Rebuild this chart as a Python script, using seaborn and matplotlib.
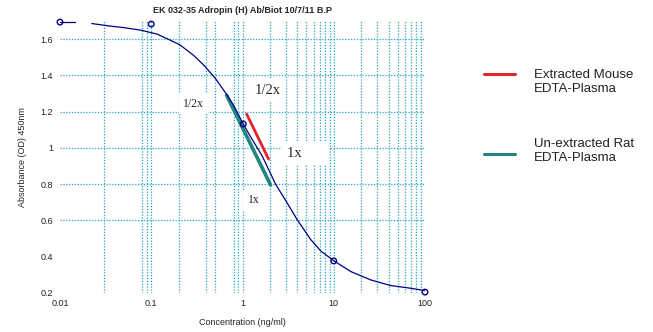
import numpy as np
import pandas as pd
import matplotlib
matplotlib.use("Agg")
import matplotlib.pyplot as plt
from matplotlib.lines import Line2D
from matplotlib.ticker import FixedLocator, FixedFormatter, NullFormatter
import seaborn as sns

# Standard curve (fitted line), two pieces: short lead-in at the top, then the main curve
lead_conc = [0.01, 0.0146]
lead_od = [1.695, 1.695]
curve_conc = [0.0223, 0.0354, 0.0492, 0.0757, 0.1156, 0.162, 0.208, 0.292, 0.376, 0.505,
              0.679, 0.796, 1.02, 1.224, 1.646, 2.305, 3.10, 3.99, 5.59, 7.2, 10, 15.4,
              25.5, 42.2, 70, 100]
curve_od = [1.686, 1.672, 1.664, 1.650, 1.628, 1.594, 1.567, 1.510, 1.457, 1.383,
            1.291, 1.236, 1.132, 1.062, 0.955, 0.800, 0.695, 0.603, 0.495, 0.432, 0.378, 0.318,
            0.272, 0.241, 0.226, 0.213]

# Standards (open circles)
std_conc = [0.01, 0.1, 1.02, 10, 100]
std_od = [1.694, 1.683, 1.132, 0.377, 0.205]

# Sample dilution lines (1/2x -> 1x)
mouse_conc = [1.11, 1.93]
mouse_od = [1.187, 0.939]
rat_conc = [0.67, 2.03]
rat_od = [1.29, 0.796]

x_ticks = [0.01, 0.1, 1, 10, 100]
x_ticklabels = ["0.01", "0.1", "1", "10", "100"]
y_ticks = [0.2, 0.4, 0.6, 0.8, 1.0, 1.2, 1.4, 1.6]
y_ticklabels = ["0.2", "0.4", "0.6", "0.8", "1", "1.2", "1.4", "1.6"]
x_grid = [0.03, 0.08, 0.09, 0.1, 0.2, 0.4, 0.5, 0.8, 0.9, 1,
          2, 3, 4, 5, 6, 7, 8, 9, 10, 20, 30, 40, 50, 60, 70, 80, 90]
y_grid = [0.6, 0.8, 1.0, 1.2, 1.4, 1.6]

title = "EK 032-35 Adropin (H) Ab/Biot 10/7/11 B.P"
x_label = "Concentration (ng/ml)"
y_label = "Absorbance (OD) 450nm"
series_names = ["Extracted Mouse\nEDTA-Plasma", "Un-extracted Rat\nEDTA-Plasma"]

NAVY = "#000080"
RED = "#E4232A"
TEAL = "#22857E"
GRID = "#22A6C6"

sns.set_style("white")
plt.rcParams["font.family"] = ["Liberation Sans", "DejaVu Sans"]

fig = plt.figure(figsize=(6.53, 3.32), dpi=100)
ax = fig.add_axes([60 / 653, 1 - 293 / 332, 365 / 653, 272 / 332])

# Dotted grid
for xv in x_grid:
    ax.axvline(xv, color=GRID, lw=0.9, ls=(0, (1, 1.3)), zorder=0)
for yv in y_grid:
    ax.axhline(yv, color=GRID, lw=0.9, ls=(0, (1, 1.3)), zorder=0)

curve = pd.DataFrame({
    "conc": lead_conc + curve_conc,
    "od": lead_od + curve_od,
    "piece": [0] * len(lead_conc) + [1] * len(curve_conc),
})
sns.lineplot(data=curve, x="conc", y="od", units="piece", estimator=None, sort=False,
             color=NAVY, lw=0.9, ax=ax, zorder=3)

std = pd.DataFrame({"conc": std_conc, "od": std_od})
sns.scatterplot(data=std, x="conc", y="od", ax=ax, s=16, marker="o",
                facecolor="none", edgecolor=NAVY, linewidth=1.0, zorder=4, clip_on=False)

sns.lineplot(x=rat_conc, y=rat_od, color=TEAL, lw=2.6, ax=ax, zorder=2)
sns.lineplot(x=mouse_conc, y=mouse_od, color=RED, lw=2.0, ax=ax, zorder=2)

ax.set_xscale("log")
ax.set_xlim(0.01, 100)
ax.set_ylim(0.2, 1.7)
for s in ax.spines.values():
    s.set_visible(False)

ax.xaxis.set_major_locator(FixedLocator(x_ticks))
ax.xaxis.set_major_formatter(FixedFormatter(x_ticklabels))
ax.xaxis.set_minor_locator(FixedLocator([v for v in x_grid if v not in x_ticks]))
ax.xaxis.set_minor_formatter(NullFormatter())
ax.yaxis.set_major_locator(FixedLocator(y_ticks))
ax.yaxis.set_major_formatter(FixedFormatter(y_ticklabels))
ax.yaxis.set_minor_locator(FixedLocator([round(0.2 + 0.04 * i, 2) for i in range(38)]))

ax.tick_params(axis="both", which="major", labelsize=6.5, colors="#222222", width=1.0,
               length=3, pad=2)
ax.tick_params(axis="x", which="major", length=3, pad=1.2)
ax.tick_params(axis="both", which="minor", width=1.0, length=2, color="#222222")

ax.set_xlabel(x_label, fontsize=6.5, labelpad=7.5)
ax.set_ylabel(y_label, fontsize=6.5, labelpad=10)
ax.set_title(title, fontsize=6.5, fontweight="bold", pad=5.5)

# Dilution labels
serif = "Liberation Serif"
box = dict(boxstyle="square,pad=0.35", facecolor="white", edgecolor="none")
ax.text(0.29, 1.242, "1/2x", family=serif, fontsize=8.5, ha="center", va="center", bbox=box, zorder=5)
ax.text(1.88, 1.319, "1/2x", family=serif, fontsize=10.5, ha="center", va="center", bbox=box, zorder=5)
ax.text(3.1, 0.972, "1x      ", family=serif, fontsize=10.5, ha="left", va="center", bbox=box, zorder=5)
ax.text(1.32, 0.713, "1x", family=serif, fontsize=8.5, ha="center", va="center", bbox=box, zorder=5)

# Legend beside the plot
W, H = 653, 332
key_rows = [(RED, 74, 82), (TEAL, 154, 151)]
for (color, line_y, text_y), name in zip(key_rows, series_names):
    fig.add_artist(Line2D([484 / W, 515 / W], [1 - line_y / H] * 2, color=color,
                          lw=2.2, transform=fig.transFigure))
    fig.text(534 / W, 1 - text_y / H, name, fontsize=9.5, ha="left", va="center",
             multialignment="left", linespacing=1.3, color="#222222")

fig.savefig("out.png", dpi=100)
